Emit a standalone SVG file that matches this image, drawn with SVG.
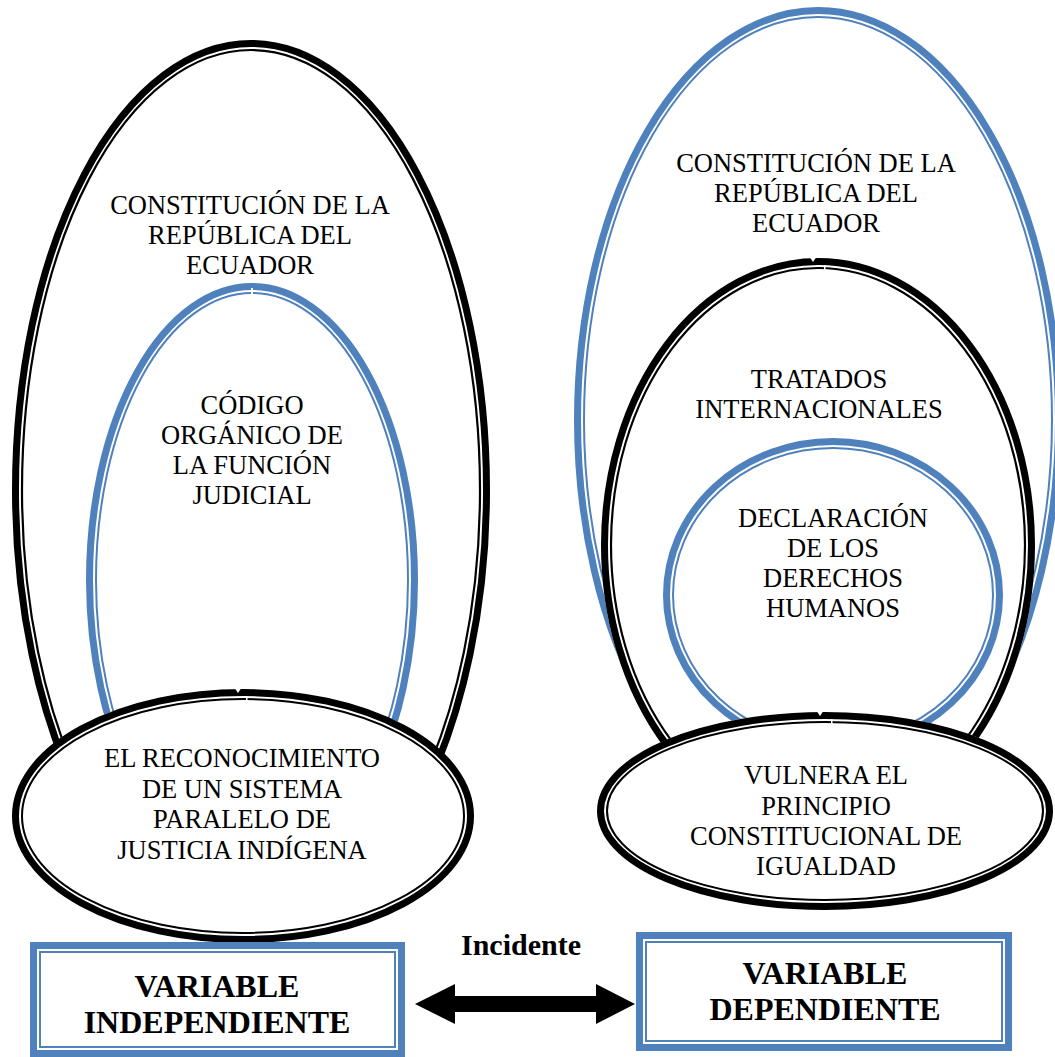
<svg xmlns="http://www.w3.org/2000/svg" width="1055" height="1057" viewBox="0 0 1055 1057">
<style>
.bk{fill:none;stroke:#000}
.bl{fill:none;stroke:#4F81BD}
.wf{fill:#fff;stroke:none}
.nt{fill:#fff;stroke:none}
.t{font-family:"Liberation Serif","Times New Roman",serif;font-size:26.5px;fill:#000;text-anchor:middle}
.b{font-family:"Liberation Serif","Times New Roman",serif;font-size:32px;font-weight:bold;fill:#000;text-anchor:middle}
</style>
<rect width="1055" height="1057" fill="#fff"/>

<g id="izq-constitucion">
<ellipse class="wf" cx="251" cy="490" rx="239" ry="450"/>
<ellipse class="bk" cx="251" cy="490" rx="235.5" ry="446.5" stroke-width="7"/>
<ellipse class="bk" cx="251" cy="490" rx="229" ry="440" stroke-width="2.2"/>
<text class="t" x="250" y="214">CONSTITUCIÓN DE LA</text>
<text class="t" x="250" y="244">REPÚBLICA DEL</text>
<text class="t" x="250" y="274">ECUADOR</text>
</g>

<g id="izq-codigo">
<ellipse class="bl" cx="252" cy="580" rx="162.5" ry="293.5" stroke-width="7"/>
<ellipse class="bl" cx="252" cy="580" rx="156" ry="287" stroke-width="2"/>
<rect class="nt" x="251" y="288" width="2" height="6"/>
<text class="t" x="252" y="414">CÓDIGO</text>
<text class="t" x="252" y="444">ORGÁNICO DE</text>
<text class="t" x="252" y="474">LA FUNCIÓN</text>
<text class="t" x="252" y="504">JUDICIAL</text>
</g>

<g id="izq-reconocimiento">
<ellipse class="wf" cx="243" cy="816" rx="231" ry="127"/>
<ellipse class="bk" cx="243" cy="816" rx="227.5" ry="123.5" stroke-width="7"/>
<ellipse class="bk" cx="243" cy="816" rx="221" ry="117" stroke-width="2"/>
<polygon class="nt" points="235,688.5 241,688.5 238,693"/>
<rect class="nt" x="246" y="696" width="1.5" height="6"/>
<text class="t" x="242" y="767">EL RECONOCIMIENTO</text>
<text class="t" x="242" y="798">DE UN SISTEMA</text>
<text class="t" x="242" y="828">PARALELO DE</text>
<text class="t" x="242" y="859">JUSTICIA INDÍGENA</text>
</g>

<g id="der-constitucion">
<ellipse class="wf" cx="818" cy="420" rx="244" ry="413"/>
<ellipse class="bl" cx="818" cy="420" rx="240.5" ry="409.5" stroke-width="7"/>
<ellipse class="bl" cx="818" cy="420" rx="234" ry="403" stroke-width="2"/>
<text class="t" x="816" y="172">CONSTITUCIÓN DE LA</text>
<text class="t" x="816" y="202">REPÚBLICA DEL</text>
<text class="t" x="816" y="232">ECUADOR</text>
</g>

<g id="der-tratados">
<ellipse class="wf" cx="818" cy="545" rx="217" ry="287"/>
<ellipse class="bk" cx="818" cy="545" rx="213.5" ry="283.5" stroke-width="7"/>
<ellipse class="bk" cx="818" cy="545" rx="207" ry="277" stroke-width="2.2"/>
<polygon class="nt" points="810,257.5 816,257.5 813,262"/>
<rect class="nt" x="824" y="265" width="1.5" height="6"/>
<text class="t" x="819" y="388">TRATADOS</text>
<text class="t" x="819" y="418">INTERNACIONALES</text>
</g>

<g id="der-declaracion">
<ellipse class="bl" cx="833" cy="595" rx="166.5" ry="153.5" stroke-width="7"/>
<ellipse class="bl" cx="833" cy="595" rx="160" ry="147" stroke-width="2"/>
<text class="t" x="833" y="527">DECLARACIÓN</text>
<text class="t" x="833" y="557">DE LOS</text>
<text class="t" x="833" y="587">DERECHOS</text>
<text class="t" x="833" y="617">HUMANOS</text>
</g>

<g id="der-vulnera">
<ellipse class="wf" cx="825" cy="811" rx="228" ry="99"/>
<ellipse class="bk" cx="825" cy="811" rx="224.5" ry="95.5" stroke-width="7"/>
<ellipse class="bk" cx="825" cy="811" rx="218" ry="89" stroke-width="2"/>
<polygon class="nt" points="817,711.5 823,711.5 820,716"/>
<rect class="nt" x="831" y="719" width="1.5" height="6"/>
<text class="t" x="826" y="784">VULNERA EL</text>
<text class="t" x="826" y="815">PRINCIPIO</text>
<text class="t" x="826" y="845">CONSTITUCIONAL DE</text>
<text class="t" x="826" y="875">IGUALDAD</text>
</g>

<g id="var-independiente">
<rect class="bl" x="33.5" y="945.5" width="368" height="108" stroke-width="7"/>
<rect class="bl" x="40" y="952" width="355" height="95" stroke-width="2"/>
<text class="b" x="217" y="997">VARIABLE</text>
<text class="b" x="217" y="1033">INDEPENDIENTE</text>
</g>

<g id="var-dependiente">
<rect class="bl" x="639.5" y="935.5" width="369" height="112" stroke-width="7"/>
<rect class="bl" x="646" y="942" width="356" height="99" stroke-width="2"/>
<text class="b" x="825" y="984">VARIABLE</text>
<text class="b" x="825" y="1020">DEPENDIENTE</text>
</g>

<g id="connectors">
<polygon points="415,1004 455,984 455,996 596,996 596,984 635,1004 596,1024 596,1012 455,1012 455,1024" fill="#000"/>
<text class="b" x="521" y="955" style="font-size:30px">Incidente</text>
</g>
</svg>
